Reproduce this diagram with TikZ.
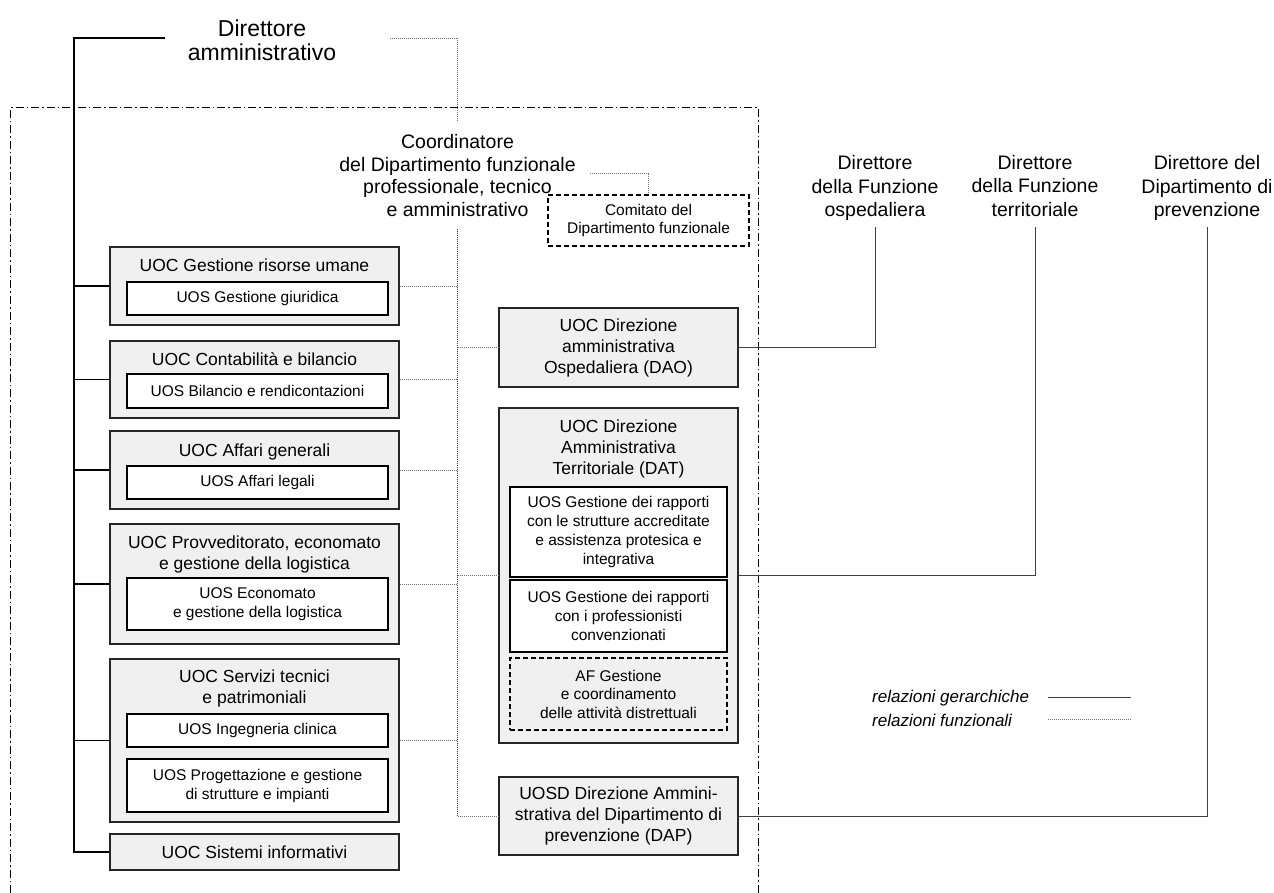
\documentclass[tikz,border=0pt]{standalone}
\usepackage{fontspec}
\setmainfont{Liberation Sans}
\newcommand\fsz[2]{\fontsize{#1}{#2}\selectfont}
\begin{document}
\begin{tikzpicture}[x=1pt,y=-1pt,
  outerbox/.style={draw=black!85, fill=black!6, line width=1.2pt, inner sep=0pt, align=center, font=\fsz{17.5}{21}},
  innerbox/.style={draw=black, fill=white, line width=1.1pt, inner sep=0pt, align=center, font=\fsz{15.5}{19}},
  afbox/.style={draw=black, line width=1.1pt, dash pattern=on 5pt off 3pt, inner sep=0pt, align=center, font=\fsz{15.5}{18.5}},
  titletext/.style={inner sep=0pt, align=center, font=\fsz{17.5}{21}},
  headtext/.style={inner sep=0pt, align=center, font=\fsz{19.5}{23.5}},
  hier/.style={draw=black, line width=1.2pt},
  hierR/.style={draw=black!75, line width=1pt},
  func/.style={draw=black!55, line width=0.8pt, dash pattern=on 1pt off 1pt},
  functrunk/.style={draw=black!80, line width=0.8pt, dash pattern=on 1pt off 1pt},
  frame/.style={draw=black, line width=1pt, dash pattern=on 8pt off 3pt on 1.5pt off 3pt},
  legendtext/.style={inner sep=0pt, anchor=west, font=\fsz{17}{21}\itshape}]

\useasboundingbox (0,0) rectangle (1274,893);

% department frame (open at the bottom)
\draw[frame] (10,893) -- (10,108) -- (758,108) -- (758,893);

% top level
\node[inner sep=0pt, align=center, font=\fsz{23}{23.5}] (dirAmm) at (262,40.5) {Direttore\\amministrativo};
\coordinate (hierStart) at (165,38);
\coordinate (funcStart) at (390,38);
\coordinate (trunk) at (74,0);

\node[inner sep=0pt, inner ysep=12pt, align=center, font=\fsz{19.5}{22.5}] (coordn) at (457.5,175.5)
  {Coordinatore\\del Dipartimento funzionale\\professionale, tecnico\\e amministrativo};

\node[afbox, fill=white, minimum width=201pt, minimum height=51pt] (com) at (648.5,220.5)
  {Comitato del\\Dipartimento funzionale};
\coordinate (comStart) at (590,173);

% directors on the right
\node[headtext] (dirOsp) at (875,188) {Direttore\\della Funzione\\ospedaliera};
\node[headtext] (dirTer) at (1035,186) {Direttore\\della Funzione\\territoriale};
\node[headtext] (dirPrev) at (1207,188) {Direttore del\\Dipartimento di\\prevenzione};
\coordinate (dirLevel) at (0,227);

% left column: UOC boxes
\node[outerbox, minimum width=289pt, minimum height=78pt] (gru) at (254.5,286) {};
\node[titletext] (gruT) at (254.5,265.5) {UOC Gestione risorse umane};
\node[innerbox, minimum width=261pt, minimum height=33pt] (gruI) at (257.5,298.5) {UOS Gestione giuridica};

\node[outerbox, minimum width=289pt, minimum height=77pt] (con) at (254.5,379.5) {};
\node[titletext] (conT) at (254.5,359.5) {UOC Contabilità e bilancio};
\node[innerbox, minimum width=261pt, minimum height=34pt] (conI) at (257.5,391) {UOS Bilancio e rendicontazioni};

\node[outerbox, minimum width=289pt, minimum height=78pt] (aff) at (254.5,470) {};
\node[titletext] (affT) at (254.5,452) {UOC Affari generali};
\node[innerbox, minimum width=261pt, minimum height=33pt] (affI) at (257.5,482.5) {UOS Affari legali};

\node[outerbox, minimum width=289pt, minimum height=120pt] (pro) at (254.5,584) {};
\node[titletext] (proT) at (254.5,554) {UOC Provveditorato, economato\\e gestione della logistica};
\node[innerbox, minimum width=261pt, minimum height=52pt] (proI) at (257.5,604) {UOS Economato\\e gestione della logistica};

\node[outerbox, minimum width=289pt, minimum height=163pt] (ser) at (254.5,740.5) {};
\node[titletext] (serT) at (254.5,688.5) {UOC Servizi tecnici\\e patrimoniali};
\node[innerbox, minimum width=261pt, minimum height=33pt] (serI) at (257.5,730.5) {UOS Ingegneria clinica};
\node[innerbox, minimum width=261pt, minimum height=53pt] (serJ) at (257.5,785.5) {UOS Progettazione e gestione\\di strutture e impianti};

\node[outerbox, minimum width=289pt, minimum height=36pt] (sis) at (254.5,852) {UOC Sistemi informativi};

% middle column: administrative directions
\node[outerbox, minimum width=239pt, minimum height=79pt] (dao) at (618.5,347.5)
  {UOC Direzione\\amministrativa\\Ospedaliera (DAO)};

\node[outerbox, minimum width=239pt, minimum height=335pt] (dat) at (618.5,575.5) {};
\node[titletext] (datT) at (618.5,449) {UOC Direzione\\Amministrativa\\Territoriale (DAT)};
\node[innerbox, minimum width=217pt, minimum height=90pt] (datA) at (618.5,532)
  {UOS Gestione dei rapporti\\con le strutture accreditate\\e assistenza protesica e\\integrativa};
\node[innerbox, minimum width=217pt, minimum height=72pt] (datB) at (618.5,616)
  {UOS Gestione dei rapporti\\con i professionisti\\convenzionati};
\node[afbox, minimum width=217pt, minimum height=72pt] (datC) at (618.5,694)
  {AF Gestione\\e coordinamento\\delle attività distrettuali};

\node[outerbox, minimum width=239pt, minimum height=78pt] (dap) at (618.5,816)
  {UOSD Direzione Ammini-\\strativa del Dipartimento di\\prevenzione (DAP)};

% hierarchical relations
\draw[hier] (hierStart) -| (sis.west -| trunk) -- (sis.west);
\foreach \b in {gru,con,aff,pro,ser}
  \draw[hier] (\b.west -| trunk) -- (\b.west);
\draw[hierR] (dao.east) -| (dirOsp.south |- dirLevel);
\draw[hierR] (dat.east) -| (dirTer.south |- dirLevel);
\draw[hierR] (dap.east) -| (dirPrev.south |- dirLevel);

% functional relations
\draw[func] (funcStart) -| (coordn.north);
\draw[func] (comStart) -| (com.north);
\draw[functrunk] (coordn.south) -- (coordn.south |- dap.west);
\draw[func] (coordn.south |- dap.west) -- (dap.west);
\foreach \b in {gru,con,aff,pro,ser}
  \draw[func] (\b.east) -- (\b.east -| coordn.south);
\draw[func] (coordn.south |- dao.west) -- (dao.west);
\draw[func] (coordn.south |- dat.west) -- (dat.west);

% legend
\node[legendtext] (lgH) at (872,698) {relazioni gerarchiche};
\node[legendtext] (lgF) at (872,720) {relazioni funzionali};
\coordinate (lgHa) at (1048,697);
\coordinate (lgHb) at (1131,697);
\coordinate (lgFa) at (1048,719);
\coordinate (lgFb) at (1131,719);
\draw[hierR] (lgHa) -- (lgHb);
\draw[func] (lgFa) -- (lgFb);
\end{tikzpicture}
\end{document}
